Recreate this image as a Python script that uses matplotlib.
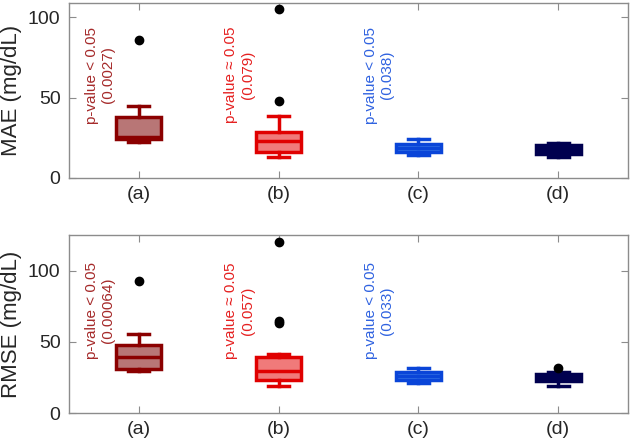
import matplotlib
matplotlib.use("Agg")
import matplotlib.pyplot as plt

plt.rcParams['font.family'] = ['Liberation Sans', 'DejaVu Sans']

labels = ['(a)', '(b)', '(c)', '(d)']
edge_colors = ['#8b0000', '#e00000', '#0a45d8', '#00004f']
fill_colors = ['#b87676', '#f07a7a', '#3a78e6', '#00004f']
text_colors = ['#a52a2a', '#e52020', '#2f62e0']

# MAE panel: whislo, q1, median, q3, whishi, outliers
mae_whislo = [22.5, 13.3, 14.4, 13.3]
mae_q1 = [24.5, 16.4, 16.0, 15.0]
mae_med = [25.5, 22.9, 18.5, 18.0]
mae_q3 = [38.0, 28.3, 21.3, 20.6]
mae_whishi = [44.5, 38.7, 24.2, 22.0]
mae_fliers = [[86], [105, 47.7], [], []]
mae_ptext = ['p-value < 0.05\n(0.0027)', 'p-value \u2248 0.05\n(0.079)', 'p-value < 0.05\n(0.038)']

# RMSE panel
rmse_whislo = [29.8, 19.2, 20.9, 19.2]
rmse_q1 = [31.0, 23.2, 23.2, 22.7]
rmse_med = [39.2, 29.6, 26.3, 25.5]
rmse_q3 = [47.9, 39.2, 29.1, 27.7]
rmse_whishi = [55.4, 41.3, 31.9, 29.1]
rmse_fliers = [[93], [120.2, 65, 63], [], [31.5]]
rmse_ptext = ['p-value < 0.05\n(0.00064)', 'p-value \u2248 0.05\n(0.057)', 'p-value < 0.05\n(0.033)']


def panel(ax, wl, q1, med, q3, wh, fl, ptext, ylabel, ymax, ytext):
    stats = []
    for i in range(4):
        stats.append(dict(whislo=wl[i], q1=q1[i], med=med[i], q3=q3[i],
                          whishi=wh[i], fliers=fl[i]))
    for i in range(4):
        c = edge_colors[i]
        ax.bxp([stats[i]], positions=[i + 1], widths=0.32, patch_artist=True,
               boxprops=dict(facecolor=fill_colors[i], edgecolor=c, linewidth=2.5),
               medianprops=dict(color=c, linewidth=2.5),
               whiskerprops=dict(color=c, linewidth=2.5),
               capprops=dict(color=c, linewidth=2.5),
               capwidths=0.15,
               flierprops=dict(marker='o', markerfacecolor='black',
                               markeredgecolor='black', markersize=6))
    for i in range(3):
        ax.text(i + 0.72, ytext, ptext[i], rotation=90, color=text_colors[i],
                fontsize=11, ha='center', va='center', multialignment='center')
    ax.set_xlim(0.5, 4.5)
    ax.set_ylim(0, ymax)
    ax.set_yticks([0, 50, 100])
    ax.set_xticks([1, 2, 3, 4])
    ax.set_xticklabels(labels)
    ax.set_ylabel(ylabel, fontsize=16, color='#262626')
    ax.tick_params(direction='in', top=True, right=True, labelsize=14,
                   colors='#262626', length=5, pad=6)
    for s in ax.spines.values():
        s.set_color('#8c8c8c')
        s.set_linewidth(1.0)
    ax.tick_params(axis='both', color='#8c8c8c')


fig = plt.figure(figsize=(6.32, 4.47), dpi=100)
ax1 = fig.add_axes([0.109, 0.602, 0.885, 0.391])
ax2 = fig.add_axes([0.109, 0.076, 0.885, 0.398])

panel(ax1, mae_whislo, mae_q1, mae_med, mae_q3, mae_whishi, mae_fliers,
      mae_ptext, 'MAE (mg/dL)', 108.7, 64)
panel(ax2, rmse_whislo, rmse_q1, rmse_med, rmse_q3, rmse_whishi, rmse_fliers,
      rmse_ptext, 'RMSE (mg/dL)', 125, 72)

fig.savefig('out.png', dpi=100)
